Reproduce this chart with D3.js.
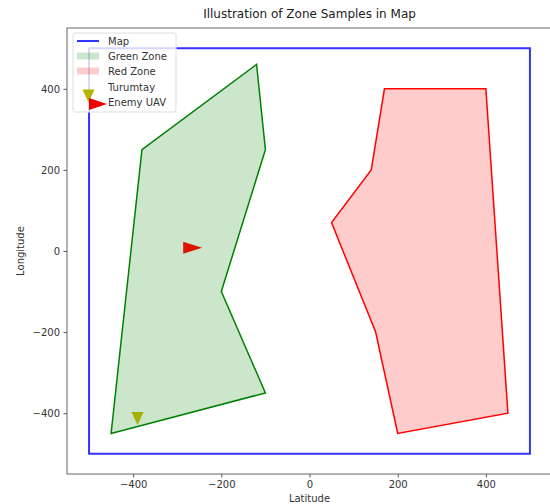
<!DOCTYPE html>
<html>
<head>
<meta charset="utf-8">
<script src="https://cdn.jsdelivr.net/npm/d3@7"></script>
<style>
  body { margin: 0; background: #fff; }
  svg { font-family: "DejaVu Sans", sans-serif; }
</style>
</head>
<body>
<div id="chart"></div>
<script>
// Data
const mapBorder = [[-500, 500], [500, 500], [500, -500], [-500, -500], [-500, 500]];
const greenZone = [[-120, 460], [-100, 250], [-200, -100], [-100, -350], [-450, -450], [-380, 250]];
const redZone = [[170, 400], [400, 400], [450, -400], [200, -450], [150, -200], [50, 70], [140, 200]];
const turumtay = [[-390, -413]];
const enemyUav = [[-265, 8]];
const xTicks = [-400, -200, 0, 200, 400];
const yTicks = [-400, -200, 0, 200, 400];
const legendItems = ["Map", "Green Zone", "Red Zone", "Turumtay", "Enemy UAV"];

const width = 550, height = 504;

const svg = d3.select("#chart").append("svg")
    .attr("width", width)
    .attr("height", height);

// Scales
const x = d3.scaleLinear().domain([-550, 550]).range([67, 552]);
const y = d3.scaleLinear().domain([-550, 550]).range([474, 28]);

const line = d3.line().x(d => x(d[0])).y(d => y(d[1]));

// Zones
svg.append("path")
    .datum(greenZone)
    .attr("d", d => line(d) + "Z")
    .attr("fill", "#008000").attr("fill-opacity", 0.2)
    .attr("stroke", "#008000").attr("stroke-width", 1.5)
    .attr("stroke-linejoin", "miter");

svg.append("path")
    .datum(redZone)
    .attr("d", d => line(d) + "Z")
    .attr("fill", "#ff0000").attr("fill-opacity", 0.2)
    .attr("stroke", "#ff0000").attr("stroke-width", 1.5);

// Map border
svg.append("path")
    .datum(mapBorder)
    .attr("d", line)
    .attr("fill", "none")
    .attr("stroke", "#0000ff").attr("stroke-opacity", 0.8)
    .attr("stroke-width", 2);

// Markers
function downTri(cx, cy, w, h) {
    return `M${cx - w / 2},${cy - h / 2}L${cx + w / 2},${cy - h / 2}L${cx},${cy + h / 2}Z`;
}
function rightTri(cx, cy, w, h) {
    return `M${cx - w / 2},${cy - h / 2}L${cx + w / 2},${cy}L${cx - w / 2},${cy + h / 2}Z`;
}

svg.selectAll(".turumtay")
    .data(turumtay)
    .join("path")
    .attr("class", "turumtay")
    .attr("d", d => downTri(x(d[0]), y(d[1]), 12, 13))
    .attr("fill", "#a5b000");

svg.selectAll(".uav")
    .data(enemyUav)
    .join("path")
    .attr("class", "uav")
    .attr("d", d => rightTri(x(d[0]), y(d[1]), 19, 12))
    .attr("fill", "#dd1500");

// Axes
const xAxis = svg.append("g")
    .attr("transform", `translate(0,${y(-550)})`)
    .call(d3.axisBottom(x).tickValues(xTicks).tickSize(3.5).tickPadding(3.5)
        .tickFormat(d => d3.format("d")(d).replace("-", "\u2212")));
const yAxis = svg.append("g")
    .attr("transform", `translate(${x(-550)},0)`)
    .call(d3.axisLeft(y).tickValues(yTicks).tickSize(3.5).tickPadding(3.5)
        .tickFormat(d => d3.format("d")(d).replace("-", "\u2212")));

[xAxis, yAxis].forEach(a => {
    a.selectAll("text").attr("font-size", 10).attr("fill", "#333")
        .attr("font-family", "DejaVu Sans, sans-serif");
    a.selectAll("line").attr("stroke", "#555");
    a.select(".domain").remove();
});

// Spines
svg.append("rect")
    .attr("x", x(-550)).attr("y", y(550))
    .attr("width", x(550) - x(-550)).attr("height", y(-550) - y(550))
    .attr("fill", "none").attr("stroke", "#666").attr("stroke-width", 1);

// Labels
svg.append("text")
    .attr("x", x(0)).attr("y", 18)
    .attr("text-anchor", "middle").attr("font-size", 12).attr("fill", "#222")
    .text("Illustration of Zone Samples in Map");

svg.append("text")
    .attr("x", x(0)).attr("y", 502)
    .attr("text-anchor", "middle").attr("font-size", 10).attr("fill", "#333")
    .text("Latitude");

svg.append("text")
    .attr("transform", `translate(24,${y(0)}) rotate(-90)`)
    .attr("text-anchor", "middle").attr("font-size", 10).attr("fill", "#333")
    .text("Longitude");

// Legend
const lg = svg.append("g");
lg.append("rect")
    .attr("x", 73).attr("y", 33).attr("width", 103).attr("height", 79)
    .attr("rx", 2)
    .attr("fill", "#fff").attr("fill-opacity", 0.8)
    .attr("stroke", "#ddd");

const rowY = [41, 56, 71, 87, 102];
lg.selectAll("text")
    .data(legendItems)
    .join("text")
    .attr("x", 108)
    .attr("y", (d, i) => rowY[i])
    .attr("dy", "0.35em")
    .attr("font-size", 10).attr("fill", "#333")
    .text(d => d);

lg.append("line")
    .attr("x1", 77).attr("x2", 99).attr("y1", rowY[0]).attr("y2", rowY[0])
    .attr("stroke", "#0000ff").attr("stroke-opacity", 0.8).attr("stroke-width", 2);
lg.append("rect")
    .attr("x", 77).attr("y", rowY[1] - 3.5).attr("width", 22).attr("height", 7)
    .attr("fill", "#008000").attr("fill-opacity", 0.2);
lg.append("rect")
    .attr("x", 77).attr("y", rowY[2] - 3.5).attr("width", 22).attr("height", 7)
    .attr("fill", "#ff0000").attr("fill-opacity", 0.2);
lg.append("path").attr("d", downTri(88.5, 96, 12, 13)).attr("fill", "#b5b500");
lg.append("path").attr("d", rightTri(98, 104, 18, 12)).attr("fill", "#ee0000");
</script>
</body>
</html>
